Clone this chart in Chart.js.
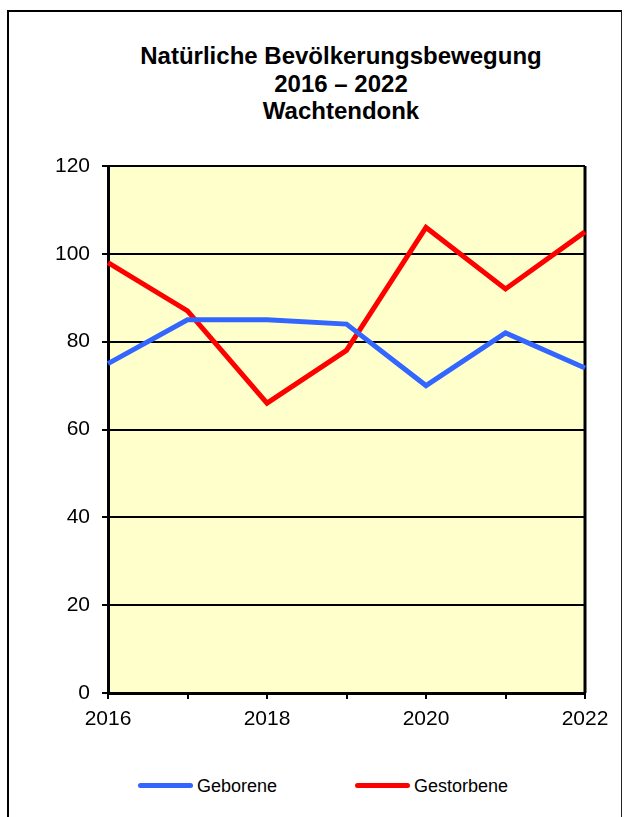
<!DOCTYPE html>
<html>
<head>
<meta charset="utf-8">
<script src="https://cdn.jsdelivr.net/npm/chart.js@4"></script>
<style>
  html, body { margin: 0; padding: 0; background: #fff; overflow: hidden; }
  body { width: 625px; height: 817px; position: relative; font-family: "Liberation Sans", Arial, sans-serif; }
  #frame { position: absolute; left: 7px; top: 10px; width: 612px; height: 830px;
           border-left: 2px solid #000; border-top: 2px solid #000; border-right: 1px solid #222; }
  #title { position: absolute; left: 91px; top: 42px; width: 500px; text-align: center;
           font-weight: bold; font-size: 24px; line-height: 27.5px; color: #000; white-space: nowrap; }
  #chartWrap { position: absolute; left: 0; top: 140px; width: 625px; height: 610px; }
  .lg-line { position: absolute; height: 5px; border-radius: 2.5px; }
  .lg-text { position: absolute; font-size: 18px; line-height: 20px; color: #000; white-space: nowrap; }
</style>
</head>
<body>
<div id="frame"></div>
<div id="title">Natürliche Bevölkerungsbewegung<br>2016 – 2022<br>Wachtendonk</div>
<div id="chartWrap"><canvas id="c" width="625" height="610"></canvas></div>
<div id="legend"></div>
<script>
// ---- data ----
const years = ['2016', '2017', '2018', '2019', '2020', '2021', '2022'];
const labelledYears = ['2016', '2018', '2020', '2022'];
const geborene = [75, 85, 85, 84, 70, 82, 74];
const gestorbene = [98, 87, 66, 78, 106, 92, 105];
const seriesNames = ['Geborene', 'Gestorbene'];
const seriesColors = ['#3366FF', '#FF0000'];
const yTicks = [0, 20, 40, 60, 80, 100, 120];

const plotBg = {
  id: 'plotBg',
  beforeDraw(chart) {
    const a = chart.chartArea, ctx = chart.ctx;
    ctx.save();
    ctx.fillStyle = '#FFFFCC';
    ctx.fillRect(a.left, a.top, a.right - a.left, a.bottom - a.top);
    ctx.restore();
  },
  beforeDatasetsDraw(chart) {
    const a = chart.chartArea, ctx = chart.ctx;
    ctx.save();
    ctx.strokeStyle = '#000';
    ctx.lineWidth = 3;
    ctx.beginPath();
    ctx.moveTo(a.right, a.top);
    ctx.lineTo(a.right, a.bottom);
    ctx.stroke();
    ctx.restore();
  }
};

const chart = new Chart(document.getElementById('c'), {
  type: 'line',
  data: {
    labels: years,
    datasets: [
      { label: seriesNames[0], data: geborene, borderColor: seriesColors[0], backgroundColor: seriesColors[0],
        borderWidth: 5, pointRadius: 0, tension: 0, borderJoinStyle: 'miter' },
      { label: seriesNames[1], data: gestorbene, borderColor: seriesColors[1], backgroundColor: seriesColors[1],
        borderWidth: 5, pointRadius: 0, tension: 0, borderJoinStyle: 'miter' }
    ]
  },
  options: {
    responsive: false,
    animation: false,
    layout: { padding: { left: 0, top: 26, right: 40, bottom: 0 } },
    plugins: { legend: { display: false }, title: { display: false }, tooltip: { enabled: false } },
    scales: {
      x: {
        offset: false,
        grid: { display: true, drawOnChartArea: false, drawTicks: true, tickLength: 6, color: '#000', lineWidth: 2 },
        border: { display: true, color: '#000', width: 3 },
        ticks: {
          autoSkip: false, maxRotation: 0, padding: 8, color: '#000',
          font: { family: 'Liberation Sans', size: 21 },
          callback: function (v, i) { const l = years[i]; return labelledYears.includes(l) ? l : ''; }
        },
        afterFit: s => { s.height = 57; }
      },
      y: {
        min: yTicks[0], max: yTicks[yTicks.length - 1],
        afterBuildTicks: s => { s.ticks = yTicks.map(v => ({ value: v })); },
        grid: { color: '#000', lineWidth: 2, tickLength: 6 },
        border: { display: true, color: '#000', width: 3 },
        ticks: { padding: 12, color: '#000', font: { family: 'Liberation Sans', size: 21 } },
        afterFit: s => { s.width = 108; }
      }
    }
  },
  plugins: [plotBg]
});

// ---- legend (HTML) built from the series arrays ----
const legend = document.getElementById('legend');
const legendX = [138, 355];
seriesNames.forEach((name, i) => {
  const ln = document.createElement('div');
  ln.className = 'lg-line';
  ln.style.left = legendX[i] + 'px';
  ln.style.top = '783px';
  ln.style.width = '55px';
  ln.style.background = seriesColors[i];
  legend.appendChild(ln);
  const tx = document.createElement('div');
  tx.className = 'lg-text';
  tx.style.left = (legendX[i] + 59) + 'px';
  tx.style.top = '776px';
  tx.textContent = name;
  legend.appendChild(tx);
});
</script>
</body>
</html>
